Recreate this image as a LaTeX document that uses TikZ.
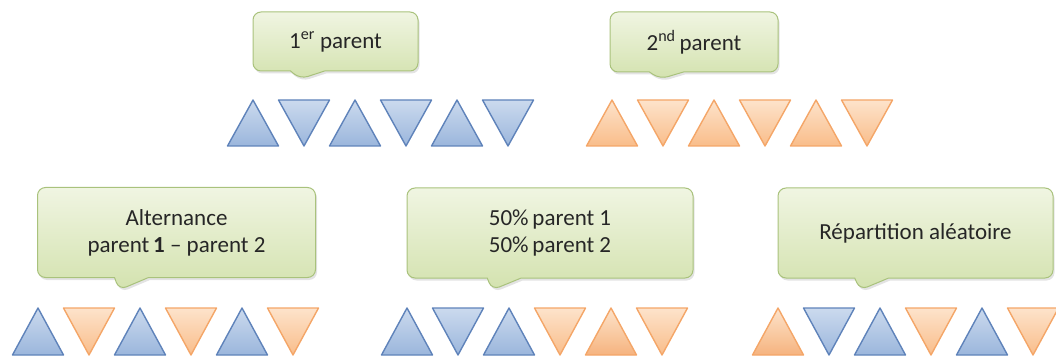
\documentclass[tikz,border=0pt]{standalone}
\usepackage{fontspec}
\setmainfont{Carlito}
\usetikzlibrary{shapes.callouts,shadows}

\definecolor{boxtop}{HTML}{F0F5E2}
\definecolor{boxbot}{HTML}{D3E2AE}
\definecolor{boxline}{HTML}{A9C27C}
\definecolor{txt}{HTML}{262626}
\definecolor{bluetop}{HTML}{CBDAEE}
\definecolor{bluebot}{HTML}{9BB6DC}
\definecolor{blueline}{HTML}{5F83BA}
\definecolor{orgtop}{HTML}{FDE3CB}
\definecolor{orgbot}{HTML}{F9BD8A}
\definecolor{orgline}{HTML}{F4A668}

\tikzset{
  callbox/.style={rectangle callout, rounded corners=8pt, draw=boxline,
    line width=1pt, top color=boxtop, bottom color=boxbot, inner sep=0pt,
    align=center, text=txt, font=\fontsize{23}{27}\selectfont,
    callout pointer width=34pt,
    drop shadow={opacity=0.22, shadow xshift=1.5pt, shadow yshift=-2.5pt}},
  bluetri/.style={draw=blueline, top color=bluetop, bottom color=bluebot,
    line width=1.4pt, line join=round},
  orgtri/.style={draw=orgline, top color=orgtop, bottom color=orgbot,
    line width=1.4pt, line join=round},
}

% gene triangles: centre x, top y, bottom y, style
\newcommand{\geneup}[4]{\path[#4] (#1,#2) -- (#1-25.5,#3) -- (#1+25.5,#3) -- cycle;}
\newcommand{\genedown}[4]{\path[#4] (#1-25.5,#2) -- (#1+25.5,#2) -- (#1,#3) -- cycle;}

\begin{document}
\begin{tikzpicture}[x=1pt,y=-1pt]
\useasboundingbox (0,0) rectangle (1056,363);

% parents
\node[callbox, minimum width=165pt, minimum height=59pt,
  callout absolute pointer={(300,79)}] (p1) at (335.5,41.5)
  {1\textsuperscript{er} parent};
\node[callbox, minimum width=168pt, minimum height=60pt,
  callout absolute pointer={(660,79)}] (p2) at (694,42)
  {2\textsuperscript{nd}\,parent};

% crossover strategies
\node[callbox, minimum width=278pt, minimum height=90pt,
  callout absolute pointer={(119,290)}] (c1) at (176.5,232.5)
  {Alternance\\parent\,\textbf{1} -- parent 2};
\node[callbox, minimum width=286pt, minimum height=90pt,
  callout absolute pointer={(492,290)}] (c2) at (550,233)
  {50\%\,parent 1\\50\%\,parent 2};
\node[callbox, minimum width=275pt, minimum height=90pt,
  callout absolute pointer={(860,290)}] (c3) at (915.5,233)
  {Répartition aléatoire};

% parent chromosomes
\foreach \c in {253,355,457} {\geneup{\c}{100}{146}{bluetri}}
\foreach \c in {304,406,508} {\genedown{\c}{100}{146}{bluetri}}
\foreach \c in {612,714,816} {\geneup{\c}{100}{146}{orgtri}}
\foreach \c in {663,765,867} {\genedown{\c}{100}{146}{orgtri}}

% alternating child
\foreach \c in {38,140,242} {\geneup{\c}{308}{355}{bluetri}}
\foreach \c in {89,191,293} {\genedown{\c}{308}{355}{orgtri}}

% half and half child
\geneup{407}{308}{355}{bluetri}
\genedown{458}{308}{355}{bluetri}
\geneup{509}{308}{355}{bluetri}
\genedown{560}{308}{355}{orgtri}
\geneup{611}{308}{355}{orgtri, bottom color=orgline!85}
\genedown{662}{308}{355}{orgtri}

% random child
\geneup{778}{308}{355}{orgtri, bottom color=orgline!85}
\genedown{829}{308}{355}{bluetri}
\geneup{880}{308}{355}{bluetri}
\genedown{931}{308}{355}{orgtri}
\geneup{982}{308}{355}{bluetri}
\genedown{1033}{308}{355}{orgtri}
\end{tikzpicture}
\end{document}
